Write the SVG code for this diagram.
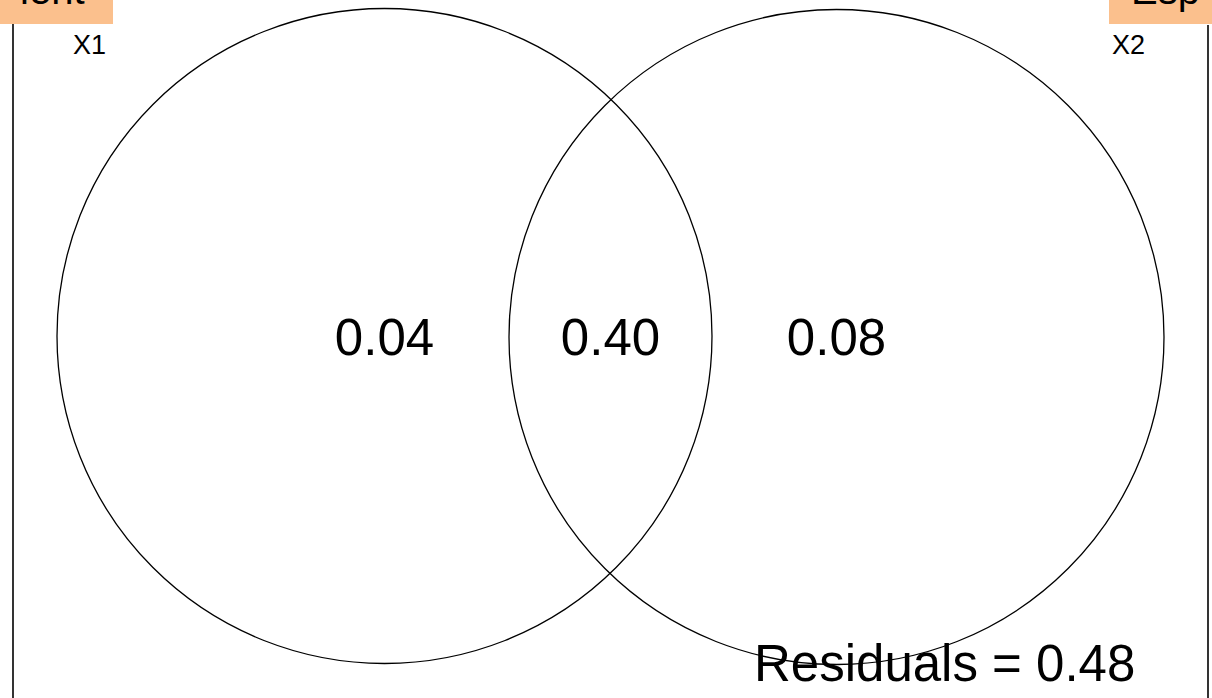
<svg xmlns="http://www.w3.org/2000/svg" width="1212" height="698" viewBox="0 0 1212 698">
  <style>
    .set { fill: none; stroke: #000; stroke-width: 1.3; }
    .frame { stroke: #000; stroke-width: 1.6; }
    .strip { fill: #FBC08D; }
    .strip-label { font-family: "Liberation Sans", Arial, sans-serif; font-size: 40px; fill: #000; }
    .set-label { font-family: "Liberation Sans", Arial, sans-serif; font-size: 27px; fill: #000; }
    .value { font-family: "Liberation Sans", Arial, sans-serif; font-size: 51px; fill: #000; text-anchor: middle; }
    .resid { font-family: "Liberation Sans", Arial, sans-serif; font-size: 51px; fill: #000; }
  </style>
  <rect width="1212" height="698" fill="#fff"/>

  <!-- facet strips (clipped at the top edge) -->
  <g id="strip-left">
    <rect class="strip" x="0" y="0" width="113" height="24"/>
    <text class="strip-label" x="20" y="4">ient</text>
  </g>
  <g id="strip-right">
    <rect class="strip" x="1109" y="0" width="103" height="24"/>
    <text class="strip-label" x="1131" y="4">Esp</text>
  </g>

  <!-- panel borders -->
  <g id="frame">
    <line class="frame" x1="13" y1="24" x2="13" y2="698"/>
    <line class="frame" x1="1208" y1="25" x2="1208" y2="698"/>
  </g>

  <!-- sets -->
  <g id="set-x1">
    <circle class="set" cx="384.5" cy="336" r="327.5"/>
    <text class="set-label" x="73" y="54">X1</text>
  </g>
  <g id="set-x2">
    <circle class="set" cx="836.5" cy="337" r="327.5"/>
    <text class="set-label" x="1112" y="54">X2</text>
  </g>

  <!-- region values -->
  <g id="values">
    <text class="value" x="384.5" y="355">0.04</text>
    <text class="value" x="610.5" y="355">0.40</text>
    <text class="value" x="836.5" y="355">0.08</text>
  </g>

  <g id="residuals">
    <text class="resid" x="754" y="681">Residuals = 0.48</text>
  </g>
</svg>
